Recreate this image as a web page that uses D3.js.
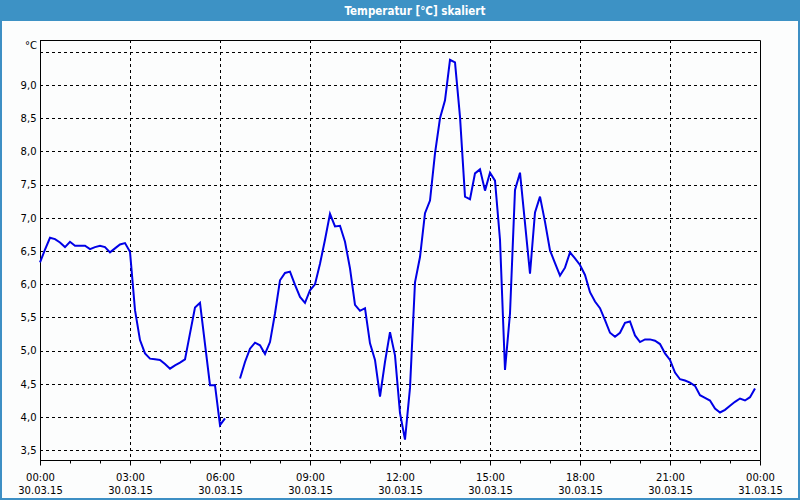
<!DOCTYPE html>
<html>
<head>
<meta charset="utf-8">
<script src="https://cdn.jsdelivr.net/npm/d3@7"></script>
<style>
  body { margin: 0; background: #fcfdfd; }
  svg { display: block; }
  .tick text, .lbl { font-family: "DejaVu Sans", Verdana, sans-serif; font-size: 10px; fill: #000; }
  .title { font-family: "Liberation Sans Narrow", "DejaVu Sans Condensed", sans-serif; font-size: 11.5px; font-weight: bold; fill: #fff; }
</style>
</head>
<body>
<svg id="chart" width="800" height="500"></svg>
<script>
// 10-minute readings, null = no data
var times = [
  "00:00","00:10","00:20","00:30","00:40","00:50","01:00","01:10","01:20","01:30","01:40","01:50",
  "02:00","02:10","02:20","02:30","02:40","02:50","03:00","03:10","03:20","03:30","03:40","03:50",
  "04:00","04:10","04:20","04:30","04:40","04:50","05:00","05:10","05:20","05:30","05:40","05:50",
  "06:00","06:10","06:20","06:30","06:40","06:50","07:00","07:10","07:20","07:30","07:40","07:50",
  "08:00","08:10","08:20","08:30","08:40","08:50","09:00","09:10","09:20","09:30","09:40","09:50",
  "10:00","10:10","10:20","10:30","10:40","10:50","11:00","11:10","11:20","11:30","11:40","11:50",
  "12:00","12:10","12:20","12:30","12:40","12:50","13:00","13:10","13:20","13:30","13:40","13:50",
  "14:00","14:10","14:20","14:30","14:40","14:50","15:00","15:10","15:20","15:30","15:40","15:50",
  "16:00","16:10","16:20","16:30","16:40","16:50","17:00","17:10","17:20","17:30","17:40","17:50",
  "18:00","18:10","18:20","18:30","18:40","18:50","19:00","19:10","19:20","19:30","19:40","19:50",
  "20:00","20:10","20:20","20:30","20:40","20:50","21:00","21:10","21:20","21:30","21:40","21:50",
  "22:00","22:10","22:20","22:30","22:40","22:50","23:00","23:10","23:20","23:30","23:40","23:50"
];
var temps = [
  6.33,6.52,6.70,6.68,6.63,6.56,6.64,6.58,6.58,6.58,6.53,6.56,
  6.58,6.56,6.48,6.54,6.60,6.62,6.49,5.61,5.16,4.96,4.88,4.87,
  4.86,4.80,4.73,4.78,4.82,4.87,5.26,5.65,5.72,5.10,4.48,4.48,
  3.88,3.98,null,null,4.58,4.83,5.03,5.12,5.08,4.95,5.13,5.56,
  6.06,6.17,6.19,5.99,5.81,5.72,5.91,6.00,6.31,6.67,7.06,6.87,
  6.88,6.64,6.24,5.69,5.60,5.64,5.11,4.86,4.31,4.83,5.28,4.93,
  4.06,3.66,4.44,6.03,6.41,7.07,7.26,7.97,8.50,8.77,9.38,9.34,
  8.52,7.32,7.28,7.67,7.73,7.41,7.68,7.56,6.67,4.71,5.56,7.42,
  7.68,6.92,6.16,7.08,7.32,6.94,6.51,6.32,6.13,6.25,6.48,6.39,
  6.29,6.14,5.88,5.74,5.64,5.46,5.27,5.21,5.27,5.42,5.44,5.23,
  5.13,5.17,5.17,5.15,5.10,4.96,4.86,4.67,4.57,4.55,4.52,4.47,
  4.33,4.29,4.25,4.13,4.07,4.11,4.17,4.23,4.28,4.25,4.30,4.43
];
var yTicks = [3.5,4.0,4.5,5.0,5.5,6.0,6.5,7.0,7.5,8.0,8.5,9.0,9.5];
var yLabels = ["3,5","4,0","4,5","5,0","5,5","6,0","6,5","7,0","7,5","8,0","8,5","9,0",""];
var xTickHours = [0,3,6,9,12,15,18,21,24];
var xTimeLabels = ["00:00","03:00","06:00","09:00","12:00","15:00","18:00","21:00","00:00"];
var xDateLabels = ["30.03.15","30.03.15","30.03.15","30.03.15","30.03.15","30.03.15","30.03.15","30.03.15","31.03.15"];
var titleText = "Temperatur [°C] skaliert";
var unitText = "°C";

var svg = d3.select("#chart");
var plotL = 40, plotR = 760, plotT = 40, plotB = 460;

var data = times.map(function(t, i) {
  var p = t.split(":");
  return {h: +p[0] + p[1] / 60, v: temps[i]};
});

var x = d3.scaleLinear().domain([0, 24]).range([plotL, plotR]);
var y = d3.scaleLinear().domain([3.354, 9.678]).range([plotB, plotT]);

// window frame + title bar
svg.append("rect").attr("x", 0).attr("y", 0).attr("width", 800).attr("height", 500)
  .attr("fill", "#fcfdfd").attr("stroke", "#3d8fc4").attr("stroke-width", 4);
svg.append("rect").attr("x", 0).attr("y", 0).attr("width", 800).attr("height", 21)
  .attr("fill", "#3d92c5");
svg.append("text").attr("class", "title")
  .attr("x", 415).attr("y", 15).attr("text-anchor", "middle")
  .text(titleText);

// grid
svg.append("g").selectAll("line")
  .data(yTicks)
  .enter().append("line")
  .attr("x1", plotL).attr("x2", plotR)
  .attr("y1", function(d) {return Math.round(y(d)) + 0.5;})
  .attr("y2", function(d) {return Math.round(y(d)) + 0.5;})
  .attr("stroke", "#000").attr("stroke-dasharray", "3,3");

svg.append("g").selectAll("line")
  .data(xTickHours.slice(1, -1))
  .enter().append("line")
  .attr("x1", function(d) {return x(d) + 0.5;})
  .attr("x2", function(d) {return x(d) + 0.5;})
  .attr("y1", plotT).attr("y2", plotB)
  .attr("stroke", "#000").attr("stroke-dasharray", "3,3");

// frame top/right
svg.append("path")
  .attr("d", "M" + plotL + "," + (plotT + 0.5) + "H" + (plotR + 0.5) + "V" + plotB)
  .attr("fill", "none").attr("stroke", "#000");

// y axis
var yAxis = d3.axisLeft(y).tickValues(yTicks).tickSize(0).tickPadding(4)
  .tickFormat(function(d, i) {return yLabels[i];});
var gy = svg.append("g").attr("transform", "translate(" + (plotL + 0.5) + ",0)").call(yAxis);
gy.select(".domain").attr("d", "M0," + plotT + "V" + (plotB + 0.5));

// x axis: minor hourly ticks, major 3h ticks
var xMinor = d3.axisBottom(x).ticks(24).tickSize(3).tickFormat("");
var gxm = svg.append("g").attr("transform", "translate(0," + (plotB + 0.5) + ")").call(xMinor);
gxm.select(".domain").remove();

var xAxis = d3.axisBottom(x).tickValues(xTickHours).tickSize(5).tickPadding(8)
  .tickFormat(function(d, i) {return xTimeLabels[i];});
var gx = svg.append("g").attr("transform", "translate(0," + (plotB + 0.5) + ")").call(xAxis);
gx.select(".domain").attr("d", "M" + plotL + ",0H" + (plotR + 0.5));
gx.selectAll(".tick").append("text")
  .attr("y", 33).attr("fill", "#000")
  .text(function(d, i) {return xDateLabels[i];});

svg.append("text").attr("class", "lbl")
  .attr("x", 37).attr("y", 49).attr("text-anchor", "end")
  .text(unitText);

// temperature line
var line = d3.line()
  .defined(function(d) {return d.v !== null;})
  .x(function(d) {return x(d.h);})
  .y(function(d) {return y(d.v);});

svg.append("path")
  .datum(data)
  .attr("d", line)
  .attr("fill", "none")
  .attr("stroke", "#0000e6")
  .attr("stroke-width", 2);
</script>
</body>
</html>
